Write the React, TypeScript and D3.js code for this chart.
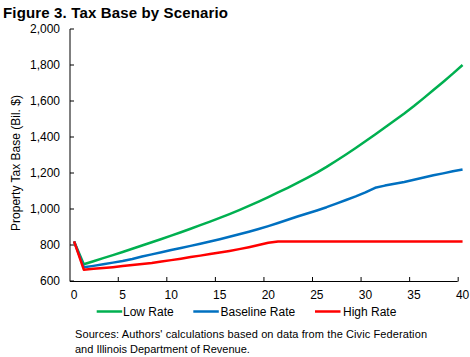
import React from "react";
import * as d3 from "d3";

const years: number[] = d3.range(0, 41);
const lowRate: number[] = [
  820, 693, 710, 727, 744, 761, 779, 797, 815, 833, 852, 871, 890, 910, 930, 951, 972, 994, 1017, 1041,
  1066, 1092, 1118, 1145, 1173, 1202, 1234, 1268, 1303, 1339, 1376, 1414, 1453, 1492, 1531, 1572, 1616,
  1661, 1706, 1752, 1800,
];
const baselineRate: number[] = [
  820, 676, 684, 693, 702, 711, 722, 736, 748, 760, 772, 783, 795, 807, 819, 832, 846, 860, 874, 889, 905,
  922, 940, 958, 975, 992, 1010, 1030, 1050, 1070, 1092, 1118, 1130, 1140, 1150, 1162, 1175, 1187, 1198,
  1210, 1220,
];
const highRate: number[] = [
  820, 663, 668, 672, 677, 683, 689, 694, 700, 708, 716, 724, 733, 741, 750, 758, 767, 777, 788, 800, 812,
  820, 820, 820, 820, 820, 820, 820, 820, 820, 820, 820, 820, 820, 820, 820, 820, 820, 820, 820, 820,
];
const yTicks: number[] = [600, 800, 1000, 1200, 1400, 1600, 1800, 2000];
const xTicks: number[] = [0, 5, 10, 15, 20, 25, 30, 35, 40];
const seriesNames: string[] = ["Low Rate", "Baseline Rate", "High Rate"];
const seriesColors: string[] = ["#00B050", "#0070C0", "#FF0000"];

const FONT = "'Liberation Sans', Arial, sans-serif";

export default function App() {
  const x = d3.scaleLinear().domain([-0.42, 39.5]).range([70, 457.7]);
  const y = d3.scaleLinear().domain([600, 2000]).range([281, 29]);
  const series = [lowRate, baselineRate, highRate];
  const line = d3
    .line<number>()
    .x((_, i) => x(years[i]))
    .y((d) => y(d));
  const fmt = d3.format(",");

  const legendItems = [
    { lx: 96.7, tx: 123 },
    { lx: 193.3, tx: 220.5 },
    { lx: 315, tx: 343 },
  ];

  return (
    <svg
      width={470}
      height={357}
      style={{ position: "absolute", left: 0, top: 0, background: "#fff" }}
      fontFamily={FONT}
    >
      <text x={3} y={17.5} fontSize={15} fontWeight="bold" fill="#000" textLength={225} lengthAdjust="spacing">
        Figure 3. Tax Base by Scenario
      </text>

      {/* y axis */}
      <line x1={70} x2={70} y1={y(2000)} y2={y(600) + 0.5} stroke="#000" strokeWidth={1} />
      {yTicks.map((t) => (
        <g key={t}>
          <line x1={70} x2={74} y1={y(t)} y2={y(t)} stroke="#000" strokeWidth={1} />
          <text x={60} y={y(t)} dy="0.35em" fontSize={12} textAnchor="end" fill="#000">
            {fmt(t)}
          </text>
        </g>
      ))}
      <text
        transform={`translate(19.5,163) rotate(-90)`}
        fontSize={12}
        textAnchor="middle"
        fill="#000"
      >
        Property Tax Base (Bil. $)
      </text>

      {/* x axis */}
      <line x1={70} x2={457.7} y1={281.5} y2={281.5} stroke="#000" strokeWidth={1} />
      {xTicks.slice(1).map((t) => (
        <line key={t} x1={x(t - 0.45)} x2={x(t - 0.45)} y1={277} y2={281.5} stroke="#000" strokeWidth={1} />
      ))}
      {xTicks.map((t) => (
        <text key={t} x={x(t)} y={299} fontSize={12} textAnchor="middle" fill="#000">
          {t}
        </text>
      ))}

      {/* lines */}
      {series.map((s, k) => (
        <path
          key={k}
          d={line(s) || ""}
          fill="none"
          stroke={seriesColors[k]}
          strokeWidth={2.5}
          strokeLinejoin="round"
        />
      ))}

      {/* legend */}
      {seriesNames.map((n, k) => (
        <g key={n}>
          <line
            x1={legendItems[k].lx}
            x2={legendItems[k].lx + 25.5}
            y1={311.5}
            y2={311.5}
            stroke={seriesColors[k]}
            strokeWidth={2.5}
          />
          <text x={legendItems[k].tx} y={315.8} fontSize={12} fill="#000">
            {n}
          </text>
        </g>
      ))}

      {/* sources */}
      <text x={75} y={338} fontSize={11} fill="#000" textLength={352} lengthAdjust="spacing">
        Sources: Authors' calculations based on data from the Civic Federation
      </text>
      <text x={75} y={352.5} fontSize={11} fill="#000">
        and Illinois Department of Revenue.
      </text>
    </svg>
  );
}
